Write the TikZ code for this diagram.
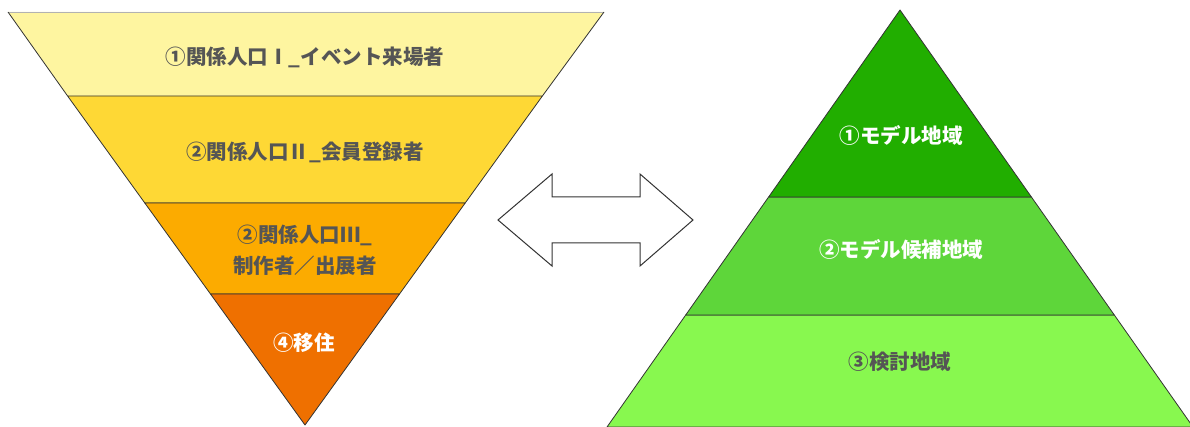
\documentclass[tikz,border=0pt]{standalone}
\usepackage{fontspec}
\newfontfamily\jp{Noto Sans CJK JP}
\definecolor{yA}{HTML}{FEF5A0}
\definecolor{yB}{HTML}{FED835}
\definecolor{yC}{HTML}{FCAB00}
\definecolor{yD}{HTML}{EF7000}
\definecolor{gA}{HTML}{21AE00}
\definecolor{gB}{HTML}{5ED63A}
\definecolor{gC}{HTML}{88F84F}
\definecolor{txtgray}{HTML}{555555}
\definecolor{edge}{HTML}{333333}
\tikzset{
  band/.style={draw=edge, line width=0.8pt, line join=round},
  lbl/.style={font=\jp\bfseries\fontsize{20.5}{31}\selectfont, align=center, inner sep=0pt},
  dark/.style={lbl, text=txtgray},
  light/.style={lbl, text=white},
}
\begin{document}
\begin{tikzpicture}[x=1pt,y=-1pt]
\useasboundingbox (0,0) rectangle (1190,427);
% left inverted pyramid
\fill[yA] (8,12) -- (604,12) -- (542.4,96) -- (67.6,96) -- cycle;
\draw[draw=gray!60, line width=0.8pt] (8,12) -- (604,12);
\draw[band] (604,12) -- (542.4,96) (8,12) -- (67.6,96);
\filldraw[band, fill=yB] (67.6,96) -- (542.4,96) -- (465.2,203) -- (144.8,203) -- cycle;
\filldraw[band, fill=yC] (144.8,203) -- (465.2,203) -- (399.5,294) -- (210.5,294) -- cycle;
\filldraw[band, fill=yD] (210.5,294) -- (399.5,294) -- (305,425) -- cycle;
\node[dark] (l1) at (305,57) {①関係人口Ⅰ\_イベント来場者};
\node[dark] (l2) at (305,152) {②関係人口Ⅱ\_会員登録者};
\node[dark] (l3) at (305,250) {②関係人口Ⅲ\_\\制作者／出展者};
\node[light] (l4) at (304,343) {④移住};
% double arrow
\draw[draw=edge, line width=1pt, line join=miter, fill=white]
  (498,220) -- (552,174) -- (552,197) -- (640,197) -- (640,174) -- (693,220)
  -- (640,266) -- (640,243) -- (552,243) -- (552,266) -- cycle;
% right pyramid
\filldraw[band, fill=gC] (685.7,315) -- (1114.3,315) -- (1193,427) -- (607,427) -- cycle;
\filldraw[band, fill=gB] (768.6,197) -- (1031.4,197) -- (1114.3,315) -- (685.7,315) -- cycle;
\filldraw[band, fill=gA] (900,10) -- (1031.4,197) -- (768.6,197) -- cycle;
\node[light] (r1) at (901,135) {①モデル地域};
\node[light] (r2) at (901,250) {②モデル候補地域};
\node[dark] (r3) at (900,362) {③検討地域};
\end{tikzpicture}
\end{document}
